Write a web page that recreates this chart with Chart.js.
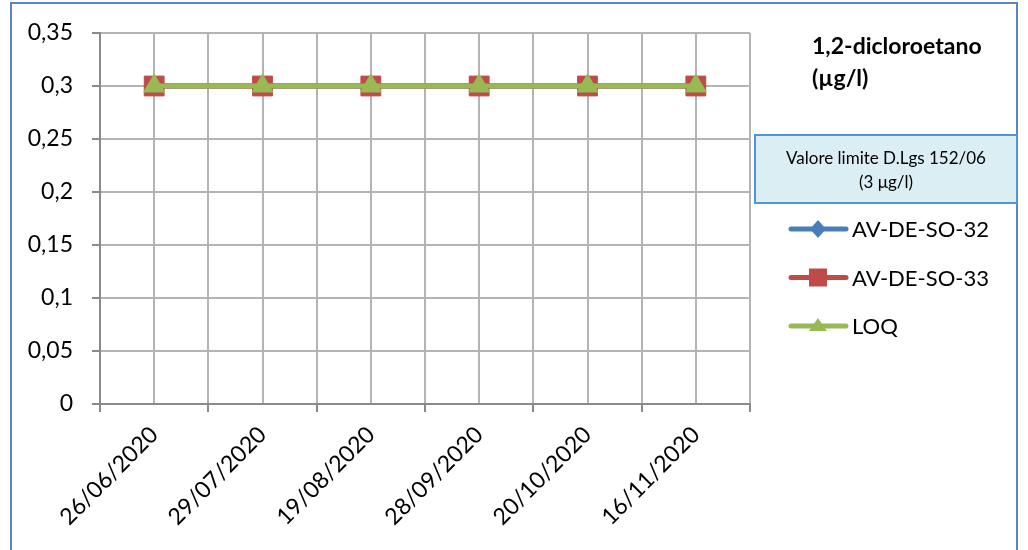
<!DOCTYPE html>
<html><head><meta charset="utf-8">
<script src="https://cdn.jsdelivr.net/npm/chart.js@4"></script>
<style>html,body{margin:0;padding:0;background:#fff}canvas{display:block}</style>
</head><body>
<canvas id="c" width="1028" height="550"></canvas>
<script>
const categories = ['26/06/2020','29/07/2020','19/08/2020','28/09/2020','20/10/2020','16/11/2020'];
const avDeSo32 = [0.3, 0.3, 0.3, 0.3, 0.3, 0.3];
const avDeSo33 = [0.3, 0.3, 0.3, 0.3, 0.3, 0.3];
const loq = [0.3, 0.3, 0.3, 0.3, 0.3, 0.3];
const seriesNames = ['AV-DE-SO-32', 'AV-DE-SO-33', 'LOQ'];
const chartTitle = ['1,2-dicloroetano', '(µg/l)'];
const limitLabel = ['Valore limite D.Lgs 152/06', '(3 μg/l)'];
const yMin = 0, yMax = 0.35, yStep = 0.05;

const FONT = 'Lato, "Open Sans", sans-serif';
const toPts = arr => arr.map((v, i) => ({ x: i, y: v }));

const overlay = {
  id: 'overlay',
  afterDraw(chart) {
    const ctx = chart.ctx;
    ctx.save();
    ctx.strokeStyle = '#5a86c2'; ctx.lineWidth = 2;
    ctx.strokeRect(11, 3, 1006, 700);
    ctx.fillStyle = '#000'; ctx.font = 'bold 23px ' + FONT;
    ctx.textAlign = 'left'; ctx.textBaseline = 'middle';
    ctx.fillText(chartTitle[0], 812, 47);
    ctx.fillText(chartTitle[1], 812, 79);
    ctx.fillStyle = '#dbeef4'; ctx.fillRect(755, 135, 262, 68);
    ctx.strokeStyle = '#5096d6'; ctx.lineWidth = 2; ctx.strokeRect(755, 135, 262, 68);
    ctx.fillStyle = '#000'; ctx.font = '17px ' + FONT; ctx.textAlign = 'center';
    ctx.fillText(limitLabel[0], 886, 159);
    ctx.fillText(limitLabel[1], 886, 183);
    chart.data.datasets.forEach((ds, i) => {
      const y = 229 + i * 48.5;
      ctx.strokeStyle = ds.borderColor; ctx.lineWidth = 5; ctx.lineCap = 'round';
      ctx.beginPath(); ctx.moveTo(791, y); ctx.lineTo(846, y); ctx.stroke();
      ctx.fillStyle = ds.backgroundColor;
      const cx = 818;
      ctx.beginPath();
      if (ds.pointStyle === 'rectRot') {
        ctx.moveTo(cx, y - 9); ctx.lineTo(cx + 8, y); ctx.lineTo(cx, y + 9); ctx.lineTo(cx - 8, y); ctx.closePath();
      } else if (ds.pointStyle === 'rect') {
        ctx.rect(cx - 9, y - 9, 18, 18);
      } else {
        ctx.moveTo(cx, y - 8); ctx.lineTo(cx + 9, y + 5); ctx.lineTo(cx - 9, y + 5); ctx.closePath();
      }
      ctx.fill();
      ctx.fillStyle = '#000'; ctx.font = '22px ' + FONT; ctx.textAlign = 'left';
      ctx.fillText(ds.label, 852, y + 1);
    });
    ctx.restore();
  }
};

const fmt = v => String(Math.round(v * 100) / 100).replace('.', ',');

new Chart(document.getElementById('c'), {
  type: 'line',
  data: {
    datasets: [
      { label: seriesNames[0], data: toPts(avDeSo32), borderColor: '#4a7ebb', backgroundColor: '#4a7ebb',
        borderWidth: 5, pointStyle: 'rectRot', pointRadius: 10, pointBorderWidth: 1, order: 2 },
      { label: seriesNames[1], data: toPts(avDeSo33), borderColor: '#be4b48', backgroundColor: '#be4b48',
        borderWidth: 5, pointStyle: 'rect', pointRadius: 14, pointBorderWidth: 1, order: 1 },
      { label: seriesNames[2], data: toPts(loq), borderColor: '#98b954', backgroundColor: '#98b954',
        borderWidth: 5, pointStyle: 'triangle', pointRadius: 12, pointBorderWidth: 1, order: 0 }
    ]
  },
  options: {
    responsive: false, animation: false,
    layout: { padding: { top: 33, right: 278, bottom: 0, left: 0 } },
    plugins: { legend: { display: false }, tooltip: { enabled: false } },
    scales: {
      x: {
        type: 'linear', min: -0.5, max: categories.length - 0.5,
        afterBuildTicks: s => {
          const t = [];
          for (let k = -1; k <= 2 * categories.length - 1; k++) t.push({ value: k / 2 });
          s.ticks = t;
        },
        ticks: { autoSkip: false, minRotation: 45, maxRotation: 45, color: '#000', padding: 9,
          font: { family: FONT, size: 23 },
          callback: v => Number.isInteger(v) ? categories[v] : '' },
        grid: { color: '#b4b4b4', lineWidth: 2, tickLength: 8,
          tickColor: c => (c.tick && Number.isInteger(c.tick.value)) ? 'rgba(0,0,0,0)' : '#8a8a8a' },
        border: { color: '#8a8a8a', width: 2 },
        afterFit: s => { s.height = 146; }
      },
      y: {
        min: yMin, max: yMax,
        ticks: { stepSize: yStep, color: '#000', padding: 19, font: { family: FONT, size: 23 }, callback: v => fmt(v) },
        grid: { color: '#b4b4b4', lineWidth: 2, tickLength: 8, tickColor: '#8a8a8a' },
        border: { color: '#8a8a8a', width: 2 },
        afterFit: s => { s.width = 100; }
      }
    }
  },
  plugins: [overlay]
});
</script>
</body></html>
